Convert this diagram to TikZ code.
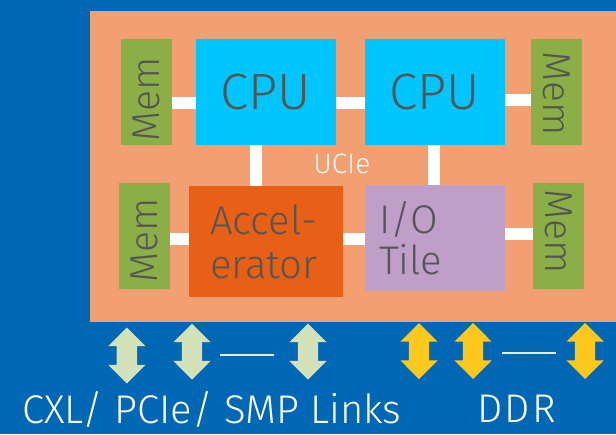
\documentclass[tikz,border=0pt]{standalone}
\usepackage{fontspec}
\setmainfont{Fira Sans}[UprightFont={* Light}]
\usepackage{xcolor}
\usepackage{tikz}
\usetikzlibrary{arrows.meta,positioning,shapes.arrows}

\definecolor{bgblue}{HTML}{0067B4}
\definecolor{pkgorange}{HTML}{F2A072}
\definecolor{memgreen}{HTML}{8BAE46}
\definecolor{cpucyan}{HTML}{00C5FF}
\definecolor{accorange}{HTML}{E86015}
\definecolor{iolilac}{HTML}{BF9FC8}
\definecolor{tilegray}{HTML}{555555}
\definecolor{cxlgreen}{HTML}{D3E1B8}
\definecolor{ddryellow}{HTML}{FFC81E}

\begin{document}
\begin{tikzpicture}[
  x=1pt, y=-1pt,
  tile/.style={inner sep=0pt, minimum width=140pt, minimum height=106pt, text=tilegray},
  memtile/.style={tile, fill=memgreen, minimum width=51pt},
  memtext/.style={text=tilegray, font=\fontsize{39}{39}\selectfont, inner sep=0pt},
  link/.style={draw=white, line width=12pt},
  linkarrow/.style={shape=double arrow, shape border rotate=90, inner sep=10pt,
    minimum height=56pt, double arrow head extend=8.5pt},
  dashline/.style={draw=cxlgreen!60!white, line width=2pt},
  caption/.style={anchor=base west, text=white, inner sep=0pt,
    font=\fontsize{40}{40}\selectfont}
]
\useasboundingbox (0,0) rectangle (616,434);
\fill[bgblue] (0,0) rectangle (616,434);
\fill[pkgorange] (90,11) rectangle (616,322);

% top row
\node[memtile] (memTL) at (146.5,92) {};
\node[tile, fill=cpucyan, font=\fontsize{51}{51}\selectfont] (cpuL) at (266,92) {CPU};
\node[tile, fill=cpucyan, font=\fontsize{51}{51}\selectfont] (cpuR) at (435,92) {CPU};
\node[memtile] (memTR) at (556.5,92) {};
\node[memtext, rotate=90, xshift=-7pt] at (memTL) {Mem};
\node[memtext, rotate=-90, xshift=2pt] at (memTR) {Mem};

% bottom row
\node[memtile] (memBL) at (144.5,236) {};
\node[tile, fill=accorange, minimum width=154pt, minimum height=111pt, text width=112pt,
  inner xsep=21pt, align=left, font=\fontsize{40}{44}\selectfont] (acc) at (266,241.5) {Accel-\\erator};
\node[tile, fill=iolilac, text width=112pt, inner xsep=14pt, align=left,
  font=\fontsize{40}{41}\selectfont] (io) at (435,238) {I/O\\ Tile};
\node[memtile] (memBR) at (558.5,236) {};
\node[memtext, rotate=90, xshift=-4pt] at (memBL) {Mem};
\node[memtext, rotate=-90, xshift=-4pt] at (memBR) {Mem};

% UCIe links
\draw[link] ([yshift=-11pt]memTL.east) -- ([yshift=-11pt]cpuL.west);
\draw[link] ([yshift=-11pt]cpuL.east) -- ([yshift=-11pt]cpuR.west);
\draw[link] ([yshift=-8pt]cpuR.east) -- ([yshift=-8pt]memTR.west);
\draw[link] ([xshift=-10pt]cpuL.south) -- ([xshift=-10pt]acc.north);
\draw[link] ([xshift=-1pt]cpuR.south) -- ([xshift=-1pt]io.north);
\draw[link] ([yshift=-2.5pt]memBL.east) -- ([yshift=3pt]acc.west);
\draw[link] ([yshift=3pt]acc.east) -- ([yshift=-0.5pt]io.west);
\draw[link] ([yshift=4pt]io.east) -- ([yshift=2pt]memBR.west);
\node[text=white, font=\fontsize{28}{28}\selectfont] (ucie) at (342,164) {UCIe};

% off-package links
\node[linkarrow, fill=cxlgreen] (g1) at (126.8,355.5) {};
\node[linkarrow, fill=cxlgreen] (g2) at (192,351.5) {};
\node[linkarrow, fill=cxlgreen] (g3) at (308,351.5) {};
\node[linkarrow, fill=ddryellow] (d1) at (419,351) {};
\node[linkarrow, fill=ddryellow] (d2) at (473,351) {};
\node[linkarrow, fill=ddryellow] (d3) at (585,351) {};
\draw[dashline] ([xshift=28pt,yshift=-3.5pt]g2.center) -- ([xshift=-34pt,yshift=-3.5pt]g3.center);
\draw[dashline] ([xshift=29pt,yshift=-2pt]d2.center) -- ([xshift=-29pt,yshift=-2pt]d3.center);

\node[caption] (cxl) at (22,423) {CXL/ PCIe/ SMP Links};
\node[caption, font=\fontsize{40}{40}\selectfont\addfontfeature{LetterSpace=6}] (ddr) at (477,422) {DDR};
\end{tikzpicture}
\end{document}
